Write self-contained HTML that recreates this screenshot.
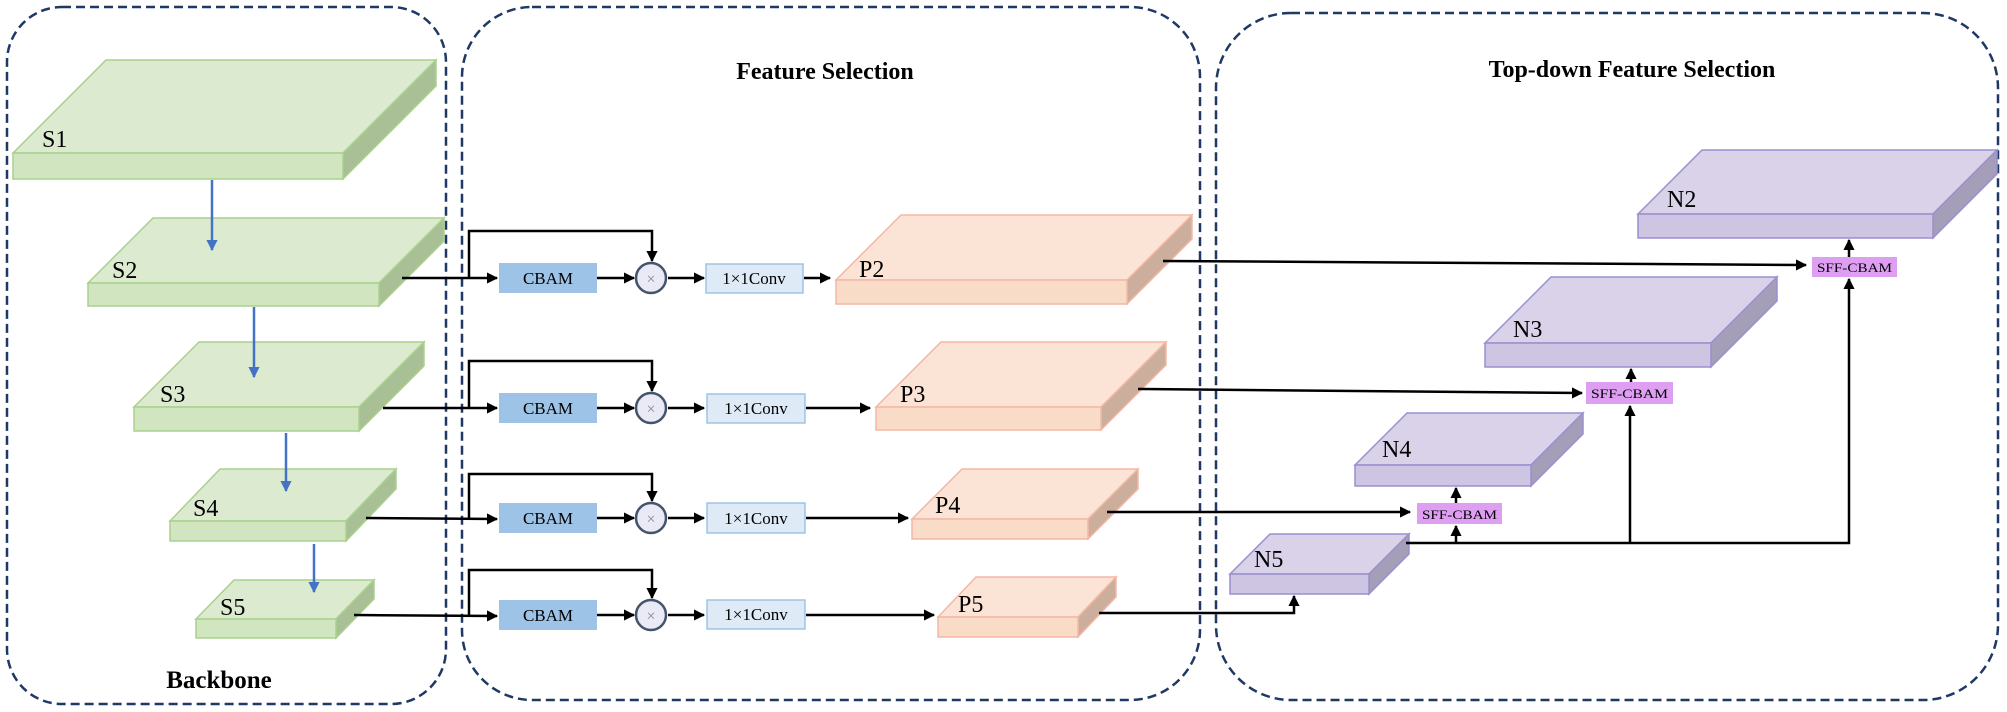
<!DOCTYPE html>
<html><head><meta charset="utf-8"><style>
html,body{margin:0;padding:0;background:#fff;}
svg{display:block;}
text{font-family:"Liberation Serif",serif;}
</style></head><body>
<svg width="2007" height="712" viewBox="0 0 2007 712" xmlns="http://www.w3.org/2000/svg">
<defs>
<marker id="ah" viewBox="0 0 10 10" refX="9" refY="5" markerWidth="4.5" markerHeight="4.5" orient="auto" markerUnits="strokeWidth"><path d="M0,0 L10,5 L0,10 z" fill="#000"/></marker>
<marker id="bh" viewBox="0 0 10 10" refX="9" refY="5" markerWidth="4.5" markerHeight="4.5" orient="auto" markerUnits="strokeWidth"><path d="M0,0 L10,5 L0,10 z" fill="#4472c4"/></marker>
</defs>

<!-- dashed containers -->
<g fill="none" stroke="#1f3864" stroke-width="2.5" stroke-dasharray="9,5">
<rect x="7" y="7" width="439" height="697" rx="55"/>
<rect x="462" y="7" width="738" height="693" rx="70"/>
<rect x="1216" y="13" width="782" height="687" rx="75"/>
</g>

<text x="219" y="688" font-size="25" font-weight="bold" text-anchor="middle">Backbone</text>
<text x="825" y="79" font-size="24" font-weight="bold" text-anchor="middle">Feature Selection</text>
<text x="1632" y="77" font-size="24" font-weight="bold" text-anchor="middle">Top-down Feature Selection</text>

<!-- green slabs -->
<g stroke="#a9d18e" stroke-width="1.5">
<polygon points="13,153 106,60 436,60 343,153" fill="#dcead0"/><polygon points="343,153 436,60 436,86 343,179" fill="#a9bf95"/><rect x="13" y="153" width="330" height="26" fill="#d2e5c1"/>
<polygon points="88,283 153,218 444,218 379,283" fill="#dcead0"/><polygon points="379,283 444,218 444,241 379,306" fill="#a9bf95"/><rect x="88" y="283" width="291" height="23" fill="#d2e5c1"/>
<polygon points="134,407 199,342 424,342 359,407" fill="#dcead0"/><polygon points="359,407 424,342 424,366 359,431" fill="#a9bf95"/><rect x="134" y="407" width="225" height="24" fill="#d2e5c1"/>
<polygon points="170,521 220,469 396,469 346,521" fill="#dcead0"/><polygon points="346,521 396,469 396,489 346,541" fill="#a9bf95"/><rect x="170" y="521" width="176" height="20" fill="#d2e5c1"/>
<polygon points="196,619 234,580 374,580 336,619" fill="#dcead0"/><polygon points="336,619 374,580 374,599 336,638" fill="#a9bf95"/><rect x="196" y="619" width="140" height="19" fill="#d2e5c1"/>
</g>
<g font-size="24">
<text x="42" y="147">S1</text><text x="112" y="278">S2</text><text x="160" y="402">S3</text><text x="193" y="516">S4</text><text x="220" y="615">S5</text>
</g>
<g stroke="#4472c4" stroke-width="2.5" marker-end="url(#bh)">
<line x1="212" y1="180" x2="212" y2="250"/><line x1="254" y1="307" x2="254" y2="377"/><line x1="286" y1="433" x2="286" y2="491"/><line x1="314" y1="544" x2="314" y2="592"/>
</g>

<!-- pink slabs -->
<g stroke="#f4b7a6" stroke-width="1.5">
<polygon points="836,280 901,215 1192,215 1127,280" fill="#fbe4d5"/><polygon points="1127,280 1192,215 1192,239 1127,304" fill="#cbae9c"/><rect x="836" y="280" width="291" height="24" fill="#f8dcc8"/>
<polygon points="876,407 941,342 1166,342 1101,407" fill="#fbe4d5"/><polygon points="1101,407 1166,342 1166,365 1101,430" fill="#cbae9c"/><rect x="876" y="407" width="225" height="23" fill="#f8dcc8"/>
<polygon points="912,519 962,469 1138,469 1088,519" fill="#fbe4d5"/><polygon points="1088,519 1138,469 1138,489 1088,539" fill="#cbae9c"/><rect x="912" y="519" width="176" height="20" fill="#f8dcc8"/>
<polygon points="938,617 976,577 1116,577 1078,617" fill="#fbe4d5"/><polygon points="1078,617 1116,577 1116,597 1078,637" fill="#cbae9c"/><rect x="938" y="617" width="140" height="20" fill="#f8dcc8"/>
</g>
<g font-size="24">
<text x="859" y="277">P2</text><text x="900" y="402">P3</text><text x="935" y="513">P4</text><text x="958" y="612">P5</text>
</g>

<!-- purple slabs -->
<g stroke="#9a8fcf" stroke-width="1.5">
<polygon points="1638,214 1702,150 1997,150 1933,214" fill="#d9d2e9"/><polygon points="1933,214 1997,150 1997,174 1933,238" fill="#a59eb9"/><rect x="1638" y="214" width="295" height="24" fill="#cdc5e2"/>
<polygon points="1485,343 1551,277 1777,277 1711,343" fill="#d9d2e9"/><polygon points="1711,343 1777,277 1777,301 1711,367" fill="#a59eb9"/><rect x="1485" y="343" width="226" height="24" fill="#cdc5e2"/>
<polygon points="1355,465 1407,413 1583,413 1531,465" fill="#d9d2e9"/><polygon points="1531,465 1583,413 1583,434 1531,486" fill="#a59eb9"/><rect x="1355" y="465" width="176" height="21" fill="#cdc5e2"/>
<polygon points="1230,574 1270,534 1409,534 1369,574" fill="#d9d2e9"/><polygon points="1369,574 1409,534 1409,554 1369,594" fill="#a59eb9"/><rect x="1230" y="574" width="139" height="20" fill="#cdc5e2"/>
</g>
<g font-size="24">
<text x="1667" y="207">N2</text><text x="1513" y="337">N3</text><text x="1382" y="457">N4</text><text x="1254" y="567">N5</text>
</g>

<!-- feature selection rows -->
<g id="rows" stroke="#000" stroke-width="2.5" fill="none">
<!-- row1 y=278 -->
<line x1="402" y1="278" x2="497" y2="278" marker-end="url(#ah)"/>
<polyline points="469,278 469,231 652,231 652,261" marker-end="url(#ah)"/>
<line x1="597" y1="278" x2="634" y2="278" marker-end="url(#ah)"/>
<line x1="668" y1="278" x2="704" y2="278" marker-end="url(#ah)"/>
<line x1="804" y1="278" x2="830" y2="278" marker-end="url(#ah)"/>
<!-- row2 y=408 -->
<line x1="383" y1="408" x2="497" y2="408" marker-end="url(#ah)"/>
<polyline points="469,408 469,361 652,361 652,391" marker-end="url(#ah)"/>
<line x1="597" y1="408" x2="634" y2="408" marker-end="url(#ah)"/>
<line x1="668" y1="408" x2="704" y2="408" marker-end="url(#ah)"/>
<line x1="806" y1="408" x2="870" y2="408" marker-end="url(#ah)"/>
<!-- row3 y=518 -->
<line x1="366" y1="518" x2="497" y2="519" marker-end="url(#ah)"/>
<polyline points="469,518 469,474 652,474 652,501" marker-end="url(#ah)"/>
<line x1="597" y1="518" x2="634" y2="518" marker-end="url(#ah)"/>
<line x1="668" y1="518" x2="704" y2="518" marker-end="url(#ah)"/>
<line x1="806" y1="518" x2="908" y2="518" marker-end="url(#ah)"/>
<!-- row4 y=615 -->
<line x1="354" y1="615" x2="497" y2="616" marker-end="url(#ah)"/>
<polyline points="469,615 469,570 652,570 652,598" marker-end="url(#ah)"/>
<line x1="597" y1="615" x2="634" y2="615" marker-end="url(#ah)"/>
<line x1="668" y1="615" x2="704" y2="615" marker-end="url(#ah)"/>
<line x1="806" y1="615" x2="934" y2="615" marker-end="url(#ah)"/>
</g>

<g font-size="17" text-anchor="middle">
<rect x="499" y="263" width="98" height="30" fill="#9dc3e6"/><text x="548" y="284">CBAM</text>
<rect x="499" y="393" width="98" height="30" fill="#9dc3e6"/><text x="548" y="414">CBAM</text>
<rect x="499" y="503" width="98" height="30" fill="#9dc3e6"/><text x="548" y="524">CBAM</text>
<rect x="499" y="600" width="98" height="30" fill="#9dc3e6"/><text x="548" y="621">CBAM</text>
</g>
<g stroke="#44546a" stroke-width="2.5" fill="#e9eaf6">
<circle cx="651" cy="278" r="15"/><circle cx="651" cy="408" r="15"/><circle cx="651" cy="518" r="15"/><circle cx="651" cy="615" r="15"/>
</g>
<g font-size="16" fill="#888" text-anchor="middle">
<text x="651" y="284">×</text><text x="651" y="414">×</text><text x="651" y="524">×</text><text x="651" y="621">×</text>
</g>
<g font-size="17" text-anchor="middle">
<rect x="706" y="264" width="97" height="29" fill="#deebf7" stroke="#9dc3e6" stroke-width="1.5"/><text x="754" y="284">1×1Conv</text>
<rect x="707" y="394" width="98" height="29" fill="#deebf7" stroke="#9dc3e6" stroke-width="1.5"/><text x="756" y="414">1×1Conv</text>
<rect x="707" y="503" width="98" height="30" fill="#deebf7" stroke="#9dc3e6" stroke-width="1.5"/><text x="756" y="524">1×1Conv</text>
<rect x="707" y="600" width="98" height="29" fill="#deebf7" stroke="#9dc3e6" stroke-width="1.5"/><text x="756" y="620">1×1Conv</text>
</g>

<!-- top-down connections -->
<g stroke="#000" stroke-width="2.5" fill="none">
<line x1="1163" y1="261" x2="1806" y2="265" marker-end="url(#ah)"/>
<line x1="1138" y1="389" x2="1582" y2="393" marker-end="url(#ah)"/>
<line x1="1107" y1="512" x2="1410" y2="512" marker-end="url(#ah)"/>
<polyline points="1099,613 1294,613 1294,596" marker-end="url(#ah)"/>
<polyline points="1406,543 1849,543 1849,279" marker-end="url(#ah)"/>
<line x1="1456" y1="543" x2="1456" y2="526" marker-end="url(#ah)"/>
<line x1="1630" y1="543" x2="1630" y2="406" marker-end="url(#ah)"/>
<line x1="1849" y1="257" x2="1849" y2="240" marker-end="url(#ah)"/>
<line x1="1631" y1="382" x2="1631" y2="369" marker-end="url(#ah)"/>
<line x1="1456" y1="503" x2="1456" y2="488" marker-end="url(#ah)"/>
</g>
<g font-size="13">
<rect x="1812" y="257" width="85" height="20" fill="#de9ff2"/><text x="1817" y="272" textLength="75" lengthAdjust="spacingAndGlyphs">SFF-CBAM</text>
<rect x="1586" y="382" width="87" height="22" fill="#de9ff2"/><text x="1591" y="398" textLength="77" lengthAdjust="spacingAndGlyphs">SFF-CBAM</text>
<rect x="1417" y="503" width="85" height="21" fill="#de9ff2"/><text x="1422" y="519" textLength="75" lengthAdjust="spacingAndGlyphs">SFF-CBAM</text>
</g>
</svg>
</body></html>
